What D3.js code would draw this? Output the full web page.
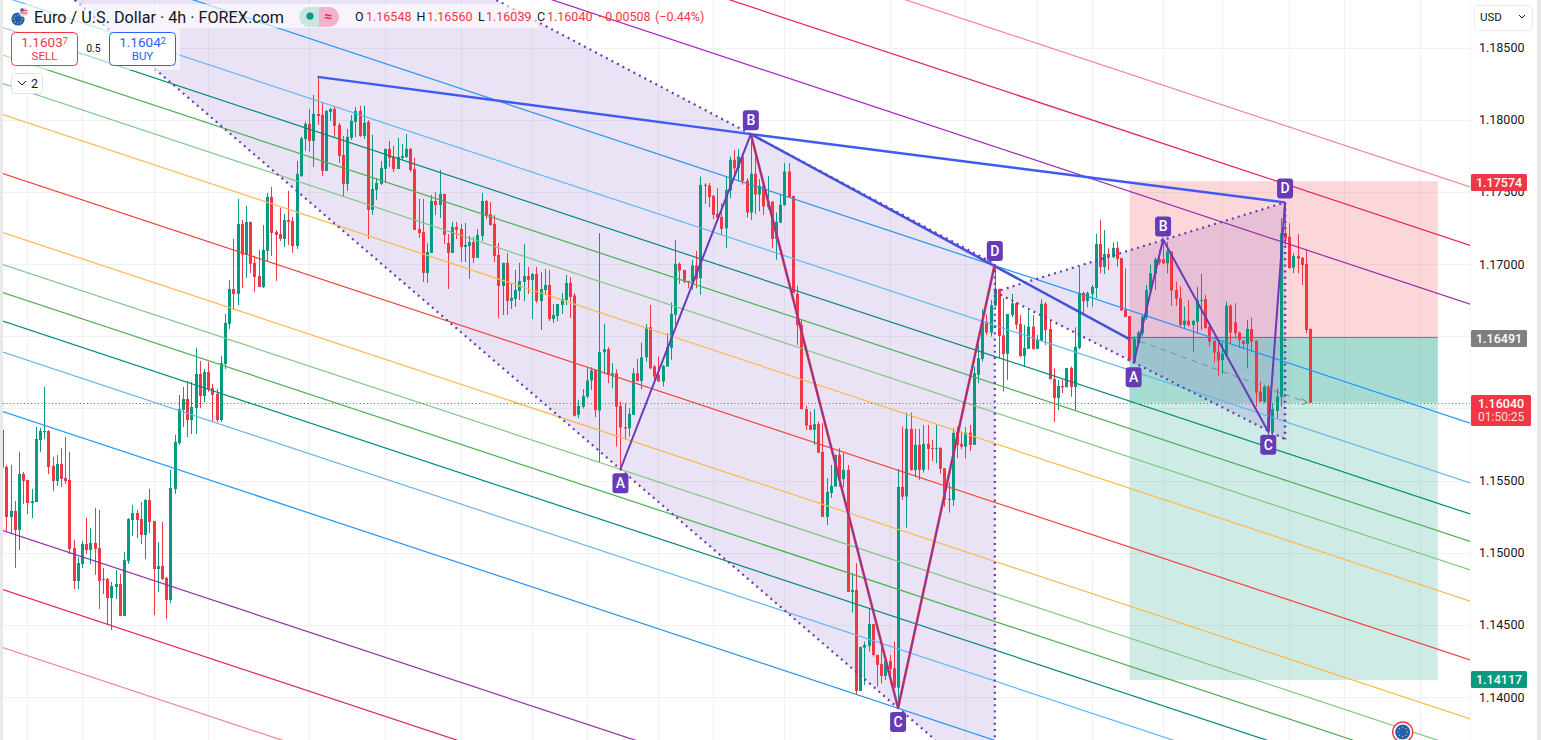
<!DOCTYPE html>
<html><head><meta charset="utf-8">
<style>html,body{margin:0;padding:0;background:#fff;overflow:hidden}svg{display:block}text{font-family:Roboto,"Liberation Sans",sans-serif}</style>
<script src="https://cdn.jsdelivr.net/npm/d3@7/dist/d3.min.js"></script>
</head><body><svg id="c" width="1541" height="740"></svg>
<script>
// All prices below are expressed in pips above this base price.
const basePrice = 1.14;
const pip = 0.0001;
const highs = [
185,160.8,160.8,135.8,169.8,155.9,150.4,144.1,187.1,186.4,
214.8,185,166.3,167.7,172.5,180.2,169.8,108.8,97,108.1,
124,117.1,131,129.6,89.4,82.5,79.7,88,85.2,100.5,
124,133,129.6,135.1,137.2,144.1,122,107.4,121.3,83.1,
157.3,181.6,209.3,214.8,219,218.3,241.8,232.8,227.3,232.1,
217,213.4,236.3,265.4,289,317.4,345.1,330.5,340.3,329.2,
305.6,309.8,327.1,349.3,353.4,323.6,338.9,334.7,350.6,332.6,
371.4,388.3,398.7,407.5,417.2,429.9,411.6,406.8,408.2,409.6,
397.8,388.8,393.6,403.3,408.9,409.6,409.6,399.8,389.5,359.7,
371.4,379.8,385.3,381.8,387.4,383.2,390,380.4,373.5,345.1,
345.1,314.4,347.9,350,365.2,348.6,320.8,329.2,329.2,327.8,
328.5,319.5,318.8,324.3,349.3,344.4,343,334,314.6,300.8,
307.7,286.2,295.9,300.8,313.9,298,293.8,298,294.5,296.6,
295.9,272.3,272.3,280,292.4,291,279.8,205.9,213.3,227.8,
228.5,227.1,321.4,258.5,242.4,231.3,227.1,204.7,203.5,200.1,
227.8,234.3,245.6,258.5,271.7,230.1,235.9,230.1,252.1,273.3,
316.7,301,295.9,288.3,302.9,309.1,360.6,356,356,347.9,
352.5,342.1,360.6,374.5,379.1,379.6,376.8,359.5,390,375,
358.8,358.8,361.1,343.3,335.7,347.9,369.9,369.9,347.2,284.9,
261.3,201.7,197.8,199.4,190.8,189.7,151.6,160.8,167.8,172.4,
168.9,160.8,85.8,92.7,34.9,38.4,61.5,50.6,29.2,33.8,
28,29.2,38.4,158.1,187.4,197.1,197.1,185.8,185.8,188.5,
188.5,178.1,188.5,173,158.5,148.6,186.2,187.4,183.9,186.9,
188.5,228.9,245.1,268.7,265.4,275.1,300,282.8,276.3,265.4,
279.3,273.7,264.7,257.8,267.7,264.7,250.9,275.6,273.7,261.3,
227.8,219.7,219.7,228,228.9,256.2,297.8,280.9,280.9,285.5,
320.9,330.6,323.6,310.9,314.9,315.6,304.2,297.1,264,250.4,
253.6,265.2,285.5,299.4,304.7,309.8,317,315.5,308.6,287.8,
284.3,270.5,275.1,261.2,284.3,293.1,278.6,257.1,246.9,245.5,
246.9,274,272.1,272.8,253.2,247.4,261.2,262.9,246.9,218.5,
216.2,216.2,203.5,213.9,331.7,342.7,328.2,307.4,320.8,304.7,
309.8,255.5];
const opens = [
185,159.4,124.7,128.9,115.7,154.5,150.4,134.4,135.1,178.1,
183.9,184.3,160.1,149.7,161.5,151.8,150.4,103.2,80.4,92.2,
106,101.9,106.7,103.2,81.3,81.8,68.6,76.2,78.3,56.1,
94.2,122.6,127.5,123.3,112.3,136.5,122,88.7,90.8,82.5,
67.2,144.1,176,198.9,206.5,191.9,200.3,223.8,208.6,225.2,
214.1,210,191.9,230.8,258.5,282.7,279.3,327.8,306.5,329.2,
300.8,291.7,284.1,309.1,346.5,322.2,320.8,317.4,330.5,329.9,
312.5,361,386.7,397.1,385.3,404,403.3,364.5,405.4,407.5,
396.4,375.6,355.5,387.4,398.5,406.1,388.8,398.5,337.5,351.3,
355.5,365.9,379.8,374.2,365.9,373.5,374.2,379.8,365.9,324.3,
322.2,293.8,307.7,343.7,340.9,348.6,314.6,307.7,325.7,324.3,
311.8,312.5,315.3,304.2,319.5,343.7,334.7,327.8,306.3,284.8,
300.8,274.4,275.8,281.3,287.6,291.7,289,293.1,274.4,282,
285.5,261.9,264,271.6,275.1,286.9,278.2,195.5,201.2,208.2,
219.3,226.2,198.5,238.9,241,223.2,224.3,201.7,186.9,186.2,
195.5,224.3,219,235.4,256.2,229,223.2,218.6,229,241.9,
264.8,300.1,295.9,288.3,287.9,299,290.2,354.9,354.4,347.2,
334.8,332.7,324.8,350.9,372.2,366.4,374.5,357.9,335.7,362.5,
348.2,354.2,339.4,343.3,317.4,328.8,340.8,364.1,347.2,279.3,
257.8,199.4,188.5,185.1,189.2,169.8,124.8,141.4,145.8,167.8,
150.9,157.4,72.8,74.2,4.2,34.2,35.4,50.6,29.2,22.9,
14.6,25,19.9,6.5,145.6,138.9,185.8,157.4,174.7,157.4,
175.4,172.4,172.1,172.6,158.5,136.8,136.6,183.9,175.4,173.5,
183.2,174.7,223.2,234.2,260.1,252.5,271.2,282.8,250.6,237.7,
264.5,272.8,258.5,236.3,241.2,256.6,241.2,246.9,272.4,255,
220.4,207.2,215.5,214.6,228,214.8,241.9,280,274.4,279.3,
283.4,313.9,298,307,304.9,311.2,304.2,268.2,264,231.9,
245.1,252,262.9,281.6,293.1,303.3,303.3,300.5,308.6,282,
276.3,257.8,260.8,257.8,260.1,274.4,275.6,256.6,246.9,239.3,
233.5,237,271.2,259.6,252.5,246.7,244.6,255,246.9,211.6,
204.7,215,183.9,198.2,208.1,321.3,319,297.5,305.6,304.4,
300.1,255];
const closes = [
158.9,124.7,128.9,115.7,154.5,149.7,134.4,135.8,178.8,184.3,
184.3,159.4,149.7,161.5,151.1,149.7,102.6,80.4,92.9,106,
101.9,106.7,102.6,80.4,81.8,68.6,76.9,78.3,56.1,94.9,
123.3,127.5,122.6,112.3,136.5,121.3,88.7,90.8,81.8,67.2,
144.8,176.7,199.6,206.5,191.9,201,223.8,208.6,225.2,213.4,
209.3,191.9,231.5,259.2,282.7,279.3,327.8,306.5,329.2,300.1,
291,284.1,309.8,346.5,321.5,320.2,317.4,330.5,329.2,312.5,
362.4,387.1,397.1,385.3,404,402.6,364.5,406.1,407.5,395.7,
374.9,355.5,388.1,399.2,406.1,388.8,397.8,337.5,352,356.2,
366.6,379.8,373.5,365.9,374.2,374.9,379.8,365.2,323.6,321.5,
293.8,308.4,343.7,340.9,348.6,320.2,307.7,325.7,323.6,311.8,
313.2,315.3,304.2,320.2,343.7,333.3,327.1,305.6,284.8,300.8,
274.4,276.5,282,288.3,291.7,289,293.1,274.4,282.7,285.5,
261.9,264.7,272.3,275.8,286.9,277.2,194.8,201.7,208.6,219.3,
226.2,198.9,238.9,241,223.2,224.3,201.2,186.7,186,196.2,
224.3,219,235.4,256.2,227.8,222,218.6,229.4,242.4,265.5,
300.1,295.5,287.9,287.4,299,289.5,354.9,354.2,346.3,334.1,
332,324.4,351.4,372.2,366.4,374.5,357.6,335.7,362.5,348.2,
354.2,339.9,343.3,317.4,329.2,341,364.1,346.3,279.8,257.6,
199.4,188.1,185.1,189.2,169.4,124.8,142.1,146.3,167.8,150.9,
157.4,72.8,74.2,4.2,34.7,36.1,50.6,29.2,22.2,14.6,
25,19.5,6.5,145.6,138.9,185.8,157.4,174.7,157.4,175.4,
171.9,171.9,172.6,158.1,136.6,137.3,183,174.7,173.5,183.2,
174.7,224.3,234.7,260.1,252.5,271.4,282.8,250.2,237.7,265.4,
272.8,258,236.3,241.9,256.6,241.2,247.4,272.4,254.3,220.2,
207.2,215.5,214.6,228,214.8,242.6,280,274.4,280,284.1,
313.9,298,307,304.9,311.2,303.5,267.7,263.3,233.5,248.1,
252.5,263.6,282,293.6,303.3,301.2,300.5,308.6,281.6,275.8,
257.8,260.8,257.8,260.6,275.1,275.1,255.5,246.2,238.6,233.1,
237.7,271.2,252.5,252,247.4,244.6,255,246.2,210.9,204.7,
215,183.9,199.6,208.1,321.3,317.8,297.1,305.6,303.8,299.4,
254.3,204];
const lows = [
158.9,114.6,112.7,89.4,101.9,133.7,126.8,124,135.1,169.8,
178.8,154.5,142.7,146.2,145.5,147.6,99.1,74.8,74.8,89.4,
99.1,92.2,84.6,61,71.4,49.9,46.4,67.9,56.1,56.1,
92.2,111.6,110.2,106,95.6,113.6,56.8,72.8,81.1,54,
65.1,140.7,174.6,187.1,180.2,182.2,182.2,200.3,204.4,211.4,
190.6,190.6,190.6,227.3,255,268.2,271.6,283.2,290.4,293.6,
280.7,284.1,283.4,301.4,305.6,288.3,316,311.8,313.2,307.7,
310.5,360.3,378.4,377.7,367.3,396.4,361,364.5,399.2,388.1,
370.1,346.5,350.6,386,388.1,388.1,386.7,317.4,334,344.4,
354.8,356.2,367.3,363.8,365.9,372.1,373.5,363.8,323.6,318.1,
287.6,286.9,307.7,334,331.9,313.9,282.7,307.7,317.4,301.4,
301.4,289.7,300.8,304.2,316,331.2,326.4,301.4,262.6,264.7,
264.7,268.9,270.3,275.1,274.4,279.3,261.9,273,254.3,278.5,
260.5,259.2,260.5,265.4,271.6,262.6,194.4,193.2,199.9,207,
212.8,193.9,162.4,223.9,217.4,213.9,173.5,157.8,178.6,180.4,
195.5,218.6,213.3,232.4,227.1,217.4,218.6,215.1,229,233.6,
257.8,286.2,286.7,283.2,282.1,283.2,278.6,341.7,339.4,331.1,
331.1,320.2,311,345.6,361.8,357.2,354.9,332.2,330.6,334.8,
336.4,334.1,338,311,302.9,328.3,340.3,346.3,279.8,244,
199.4,185.1,185.1,174.7,168.9,124.8,119.2,138,145.8,145.8,
145.3,72.8,58.5,1.4,4.2,8.4,31.5,28,7.2,9.5,
11.8,11.8,6.1,-7.6,136.6,117.4,156.7,152.3,150.4,155.5,
157.4,163.6,162,154.6,131.9,127.8,132.4,165.4,171.7,165.4,
170.5,174.7,217.4,232.4,250.9,249.7,270.5,234.7,211.6,219.7,
263.1,254.8,235.4,229.4,241.2,240.5,241.2,246.3,243.9,220.2,
190.6,198.9,210.5,214.6,208.1,198.9,240.9,264.7,270,270.5,
276.5,293.6,293.1,295.9,304,298.2,267.7,263.3,232.4,231.2,
245.1,249.7,261.2,280.9,282,299.4,300.1,293.6,271,271,
256.6,255.5,256.6,239.3,251.3,254.3,255.5,242.8,231.7,222,
223.8,235.8,245.1,248.5,242.1,240.9,227.8,239.3,201.2,204.7,
203.5,182.7,181.6,193.1,201.2,313.2,297.1,293.6,293.6,285.5,
252,203.5];

// Parallel channel: price of each line at bar 0, and how much it falls per bar.
const channelStart = [690.6,650.2,609.4,526.9,485.5,464,445,425.2,403.7,362.9,322,299.8,280.4,260.6,239.1,198,115.5,74.6,34.4];
const channelColor = ["rgba(242,54,69,.6)","#e91e63","#9c27b0","#2196f3","#64b5f6","#00897b","#4caf50","#81c784","#ffb74d","#f44336","#ffb74d","#81c784","#4caf50","#00897b","#64b5f6","#2196f3","#9c27b0","#e91e63","rgba(242,54,69,.6)"];
const channelDropPerBar = 0.9663;
const channelEndBar = 349;

// Harmonic patterns: [bar, pips]
const bigX = [75,429.7];
const bigA = [147,157.8];
const bigB = [178,390];
const bigC = [213,-7.6];
const bigD = [236,300];
const smallX = bigB;
const smallXAEnd = [268,248];
const smallA = [269,231.2];
const smallB = [276,317];
const smallC = [301,183.8];
const smallD = [305,342.7];
const smallApex = [236,280.7];

// Position tool
const posStartBar = 268, posEndBar = 341.3;
const posStop = 1.17574, posEntry = 1.16491, posTarget = 1.14117, lastPrice = 1.1604;

const axisTicks = [1.14,1.145,1.15,1.155,1.16,1.165,1.17,1.175,1.18,1.185];
const coveredTicks = [1.16,1.165];
const timeGridBars = [6,19,36,49,73,91,109,126,139,156,169,186,211,229,246,259,276,290,306,319,337];

const chartW = 1470, H = 740;
const x = d3.scaleLinear().domain([0,311]).range([2.1,1310.3]);
const y = d3.scaleLinear().domain([1.14,1.18]).range([697,119.7]);
const yP = p => y(basePrice + p*pip);
const pt = d => [x(d[0]), yP(d[1])];
const GREEN="#089981", RED="#f23645", PURPLE="#673ab7", BLUE="#3d5bf0";

const svg = d3.select("#c");
svg.append("rect").attr("width",1541).attr("height",740).attr("fill","#e9e9e9");
svg.append("rect").attr("x",3).attr("width",1534).attr("height",740).attr("fill","#fff");
svg.append("defs").append("clipPath").attr("id","plot").append("rect").attr("x",3).attr("y",0).attr("width",chartW-3).attr("height",H);
const plot = svg.append("g").attr("clip-path","url(#plot)");

// grid
const grid = plot.append("g");
grid.selectAll("line.h").data(axisTicks).join("line").attr("x1",3).attr("x2",chartW).attr("y1",d=>Math.round(y(d))+.5).attr("y2",d=>Math.round(y(d))+.5).attr("stroke","#f0f1f4");
grid.selectAll("line.v").data(timeGridBars).join("line").attr("class","v").attr("y1",0).attr("y2",H).attr("x1",d=>Math.round(x(d))+.5).attr("x2",d=>Math.round(x(d))+.5).attr("stroke","#f0f1f4");

// position tool zones (under the candles)
const pg = plot.append("g");
const zone=(a,b,c)=>pg.append("rect").attr("x",x(posStartBar)).attr("width",x(posEndBar)-x(posStartBar)).attr("y",y(a)).attr("height",y(b)-y(a)).attr("fill",c);
zone(posStop,posEntry,"rgba(242,54,69,.2)");
zone(posEntry,posTarget,"rgba(8,153,129,.2)");
zone(posEntry,lastPrice,"rgba(8,153,129,.2)");
pg.append("line").attr("x1",x(posStartBar)).attr("x2",x(posEndBar)).attr("y1",y(posEntry)).attr("y2",y(posEntry)).attr("stroke","#787b86");

// shaded wedges (under the candles)
const [ax,ay]=pt(bigA),[cx,cy]=pt(bigC),[bx,by]=pt(bigB),[dx,dy]=pt(bigD);
const lowSlope=(cy-ay)/(cx-ax), upSlope=0.527;
const lowAt=yy=>ax+(yy-ay)/lowSlope, upAt=yy=>bx+(yy-by)/upSlope;
const [sx,sy]=pt(smallApex),[sdx,sdy]=pt(smallD),[sax,say]=pt(smallA);
const sLow=sy+(say-sy)/(sax-sx)*(sdx-sx)-2;
const fills = plot.append("g");
fills.append("path").attr("d",`M${lowAt(0)},0L${upAt(0)},0L${bx},${by}L${dx},${dy}L${dx},${H}L${lowAt(H)},${H}Z`).attr("fill","rgba(103,58,183,.14)");
fills.append("path").attr("d",`M${sx},${sy}L${sdx},${sdy}L${sdx},${sLow}Z`).attr("fill","rgba(103,58,183,.14)");

// candles
const idx = d3.range(highs.length);
const cg = plot.append("g");
const colr = i => closes[i]>=opens[i] ? GREEN : RED;
cg.selectAll("rect.w").data(idx).join("rect").attr("x",i=>Math.round(x(i))).attr("width",1)
  .attr("y",i=>yP(highs[i])).attr("height",i=>Math.max(1,yP(lows[i])-yP(highs[i]))).attr("fill",colr);
cg.selectAll("rect.b").data(idx).join("rect").attr("x",i=>Math.round(x(i))-1).attr("width",3)
  .attr("y",i=>Math.min(yP(opens[i]),yP(closes[i]))).attr("height",i=>Math.max(1,Math.abs(yP(opens[i])-yP(closes[i])))).attr("fill",colr);

// channel
plot.append("g").selectAll("line").data(channelStart).join("line")
  .attr("x1",x(-1)).attr("y1",d=>yP(d+channelDropPerBar))
  .attr("x2",x(channelEndBar)).attr("y2",d=>yP(d-channelDropPerBar*channelEndBar))
  .attr("stroke",(d,i)=>channelColor[i]).attr("stroke-width",1.2);

// dashed entry-to-last arrow
const arrowEnd=[x(310.3),y(lastPrice)];
plot.append("line").attr("x1",x(posStartBar)).attr("y1",y(posEntry)).attr("x2",arrowEnd[0]).attr("y2",arrowEnd[1]).attr("stroke","#787b86").attr("stroke-dasharray","6 5").attr("stroke-opacity",.8);
plot.append("path").attr("d",`M${arrowEnd[0]-6},${arrowEnd[1]-4}L${arrowEnd[0]},${arrowEnd[1]}L${arrowEnd[0]-5},${arrowEnd[1]+2}`).attr("fill","none").attr("stroke","#787b86");

// current price line
plot.append("line").attr("x1",3).attr("x2",chartW).attr("y1",Math.round(y(lastPrice))+.5).attr("y2",Math.round(y(lastPrice))+.5).attr("stroke",RED).attr("stroke-dasharray","1 2.5");

// dotted wedge edges
const dots=(g,p,w=2.2)=>g.append("path").attr("d",p).attr("fill","none").attr("stroke",PURPLE).attr("stroke-width",w).attr("stroke-dasharray","2 4.2");
const pat = plot.append("g");
dots(pat,`M${lowAt(0)},0L${lowAt(H)},${H}`);
dots(pat,`M${upAt(0)},0L${bx},${by}L${dx},${dy}`);
dots(pat,`M${dx},${dy}L${dx},${H}`);
dots(pat,`M${sx},${sy}L${sdx},${sdy}`);
dots(pat,`M${sx},${sy}L${sdx},${sLow}`);
dots(pat,`M${sdx},${sdy}L${sdx},${sLow}`,2.6);

// legs
const leg=(pts,col,w)=>pat.append("path").attr("d",d3.line()(pts.map(pt))).attr("fill","none").attr("stroke",col).attr("stroke-width",w);
leg([bigX,bigB],BLUE,2.4);
leg([smallX,smallD],BLUE,2.4);
leg([smallX,smallXAEnd],"#4650d8",2.5);
leg([bigB,bigC,bigD],RED,2.6);
leg([bigA,bigB],PURPLE,2);
leg([bigB,bigC,bigD],PURPLE,1.2);
leg([smallA,smallB,smallC,smallD],PURPLE,2);

// badges
const badge=(p,t,dy)=>{const g=pat.append("g").attr("transform",`translate(${x(p[0])},${yP(p[1])+dy})`);
  g.append("rect").attr("x",-8).attr("y",-10).attr("width",16).attr("height",20).attr("rx",3).attr("fill",PURPLE);
  g.append("text").attr("text-anchor","middle").attr("y",5).attr("fill","#fff").attr("font-size",14).attr("font-weight",500).text(t);};
badge(bigA,"A",14);badge(bigB,"B",-14);badge(bigC,"C",14);badge(bigD,"D",-13);
badge(smallA,"A",14);badge(smallB,"B",-13);badge(smallC,"C",13);badge(smallD,"D",-14);

// axis
const axis = svg.append("g").attr("transform",`translate(1479,0)`).call(
  d3.axisRight(y).tickValues(axisTicks.filter(t=>!coveredTicks.includes(t))).tickSize(0).tickPadding(0).tickFormat(d3.format(".5f")));
axis.select(".domain").remove();
axis.selectAll("text").attr("fill","#131722").attr("font-size",12.5).style("font-family","Roboto");
svg.append("rect").attr("x",1470).attr("width",1).attr("height",H).attr("fill","#f4f4f6");

// price labels
const plabel=(p,yTop,h,w,col,sub)=>{
  svg.append("rect").attr("x",1471).attr("y",yTop).attr("width",w).attr("height",h).attr("rx",1.5).attr("fill",col);
  svg.append("text").attr("x",1476+ (w>56?2:0)).attr("y",yTop+12.6).attr("fill","#fff").attr("font-size",12.5).attr("font-weight",500).text(p);
  if(sub) svg.append("text").attr("x",1478).attr("y",yTop+26).attr("fill","#fff").attr("fill-opacity",.85).attr("font-size",12).text(sub);
};
plabel(d3.format(".5f")(posStop),174,17,56,RED);
plabel(d3.format(".5f")(posEntry),330,17,56,"#7f7f7f");
plabel(d3.format(".5f")(lastPrice),395,31,60,RED,"01:50:25");
plabel(d3.format(".5f")(posTarget),671,17,56,GREEN);

// USD selector
svg.append("rect").attr("x",1474.5).attr("y",5.5).attr("width",58).attr("height",25).attr("rx",3).attr("fill","#fff").attr("stroke","#e8e9ee");
svg.append("text").attr("x",1480).attr("y",21).attr("font-size",11.5).attr("fill","#131722").text("USD");
svg.append("path").attr("d","M1519,15l3,3l3,-3").attr("fill","none").attr("stroke","#131722");

// legend panels
const L = svg.append("g");
L.append("rect").attr("x",3).attr("y",4).attr("width",535).attr("height",24).attr("fill","rgba(255,255,255,.62)");
L.append("rect").attr("x",3).attr("y",28).attr("width",177).attr("height",42).attr("fill","rgba(255,255,255,.62)");
// logo
const eu=(g,cx,cy,r,dotR)=>{g.append("circle").attr("cx",cx).attr("cy",cy).attr("r",r).attr("fill","#1f5fb4");
  d3.range(8).forEach(k=>g.append("circle").attr("cx",cx+Math.cos(k*Math.PI/4)*r*.62).attr("cy",cy+Math.sin(k*Math.PI/4)*r*.62).attr("r",dotR).attr("fill","#f5c518"));};
eu(L,18,19,6.6,.7);
L.append("circle").attr("cx",24).attr("cy",12).attr("r",4.6).attr("fill","#f0d6d8").attr("stroke","#fff").attr("stroke-width",.8);
L.append("path").attr("d","M21,10.5h6M20.5,13h7").attr("stroke","#e0475a").attr("stroke-width",1);
L.append("rect").attr("x",20.5).attr("y",8.5).attr("width",3).attr("height",3).attr("fill","#2d5da8");
L.append("text").attr("x",34).attr("y",22.5).attr("font-size",16.2).attr("fill","#131722").attr("xml:space","preserve").text("Euro / U.S. Dollar · 4h · FOREX.com");
// pills
L.append("path").attr("d","M319,7h-10a10,10 0 0 0 0,20h10z").attr("fill","rgba(8,153,129,.18)");
L.append("path").attr("d","M319,7h10a10,10 0 0 1 0,20h-10z").attr("fill","rgba(233,30,99,.3)");
L.append("circle").attr("cx",310).attr("cy",16).attr("r",3.6).attr("fill",GREEN);
L.append("text").attr("x",328.5).attr("y",21).attr("text-anchor","middle").attr("font-size",14).attr("font-weight",700).attr("fill","#e91e63").text("≈");
// OHLC
const ohlc=[["O",355],["1.16548",366,1],["H",416.5],["1.16560",427,1],["L",478],["1.16039",486,1],["C",537],["1.16040",547,1],["−0.00508",598,1],["(−0.44%)",655,1]];
ohlc.forEach(o=>L.append("text").attr("x",o[1]).attr("y",21).attr("font-size",12.5).attr("fill",o[2]?RED:"#131722").text(o[0]));
// sell / buy
const trade=(bx,col,val,sup,lab)=>{
  L.append("rect").attr("x",bx+.5).attr("y",32.5).attr("width",66).attr("height",33).attr("rx",4).attr("fill","#fff").attr("stroke",col);
  const t=L.append("text").attr("x",bx+33.5).attr("y",47).attr("text-anchor","middle").attr("fill",col).attr("font-size",13.5).text(val);
  t.append("tspan").attr("font-size",9).attr("dy",-3).text(sup);
  L.append("text").attr("x",bx+33.5).attr("y",60).attr("text-anchor","middle").attr("fill",col).attr("font-size",11.5).text(lab);
};
trade(11,RED,"1.1603","7","SELL");
trade(109,"#2962ff","1.1604","2","BUY");
L.append("text").attr("x",93.5).attr("y",52).attr("text-anchor","middle").attr("font-size",10.5).attr("fill","#131722").text("0.5");
L.append("rect").attr("x",11.5).attr("y",73.5).attr("width",31).attr("height",20).attr("rx",3).attr("fill","#fff").attr("stroke","#e0e3eb");
L.append("path").attr("d","M18,81l4,4l4,-4").attr("fill","none").attr("stroke","#131722");
L.append("text").attr("x",31).attr("y",88).attr("font-size",12.5).attr("fill","#131722").text("2");

// bottom marker
const M = svg.append("g");
M.append("circle").attr("cx",1402.7).attr("cy",732).attr("r",10).attr("fill","#fff").attr("stroke",RED).attr("stroke-width",1.4);
eu(M,1402.7,732,7.5,.7);
</script></body></html>
